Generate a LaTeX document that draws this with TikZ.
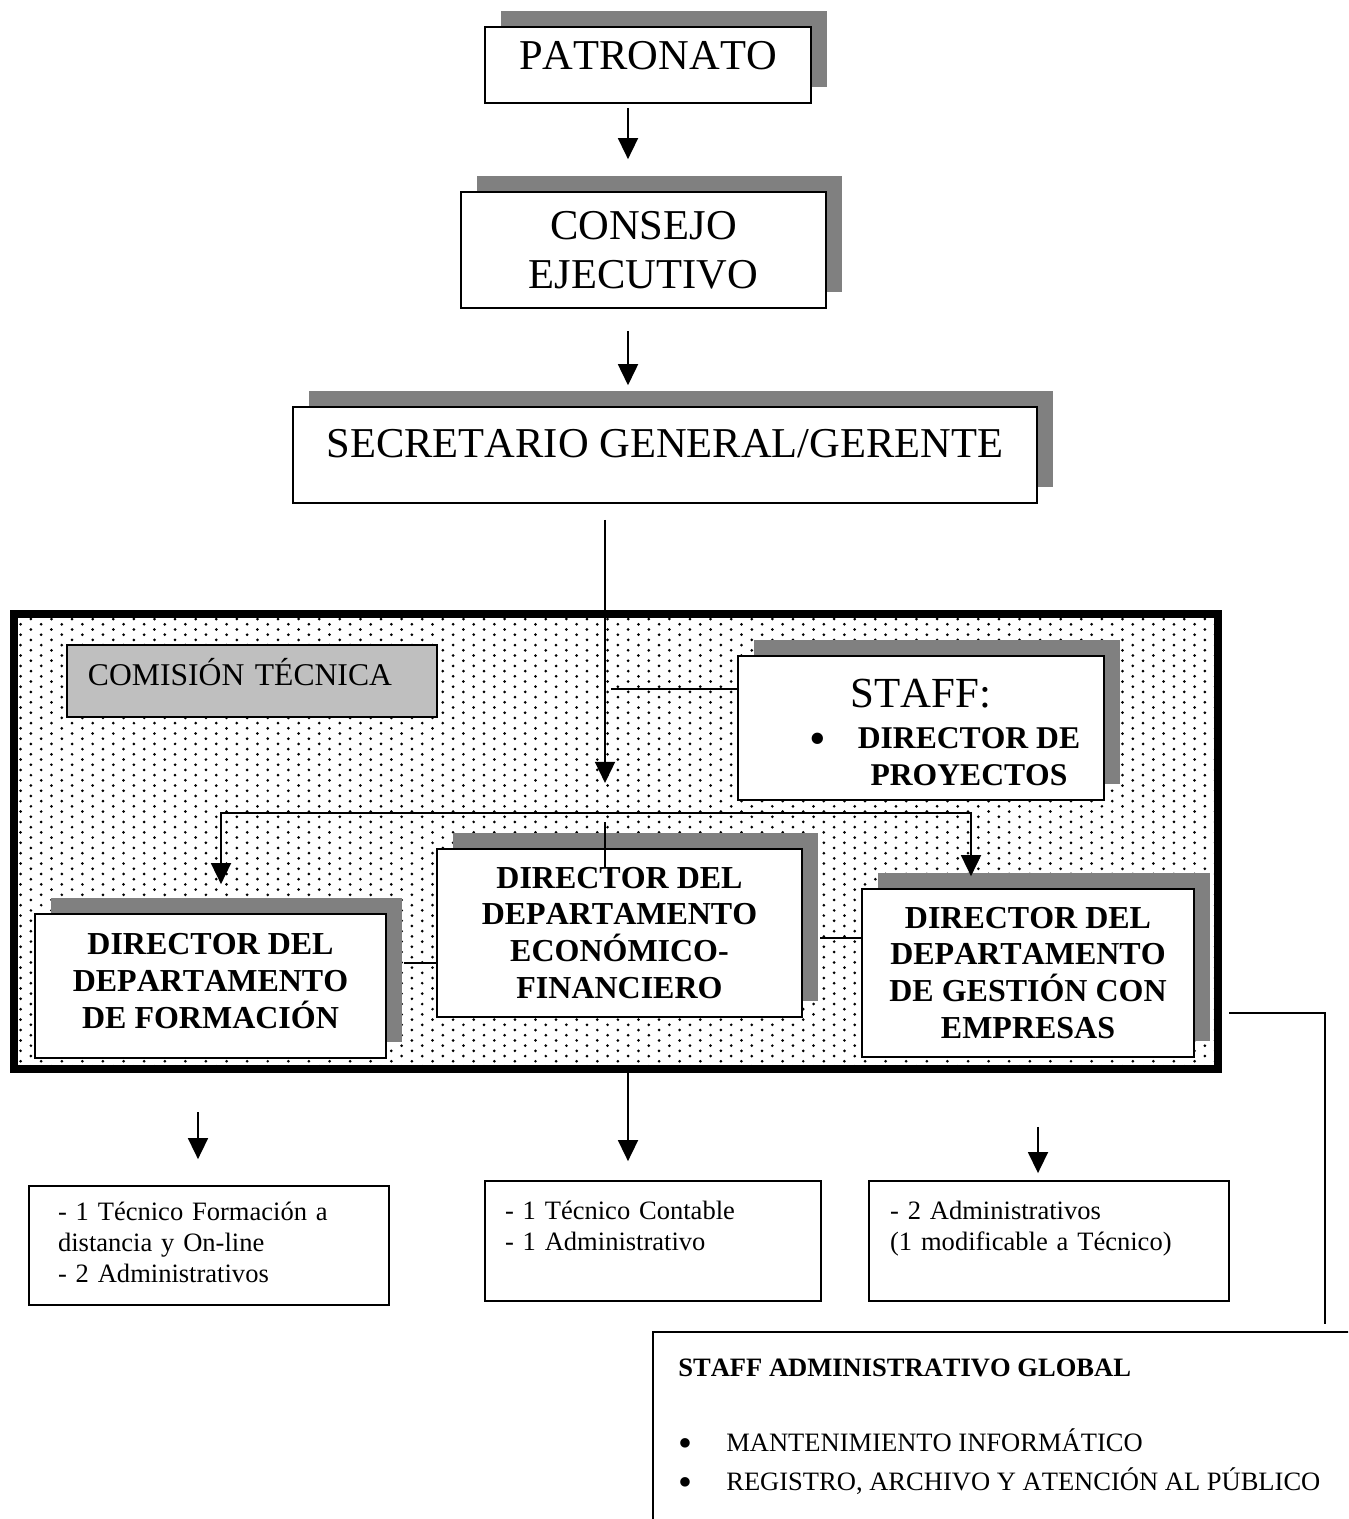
\documentclass[tikz,border=0pt]{standalone}
\usepackage{fontspec}
\setmainfont[Kerning=Off]{Liberation Serif}
\usetikzlibrary{arrows.meta}
\usetikzlibrary{shadows}
\usetikzlibrary{patterns}

\pgfdeclarepatternformonly{ctdots}{\pgfqpoint{-1.2pt}{-1.2pt}}{\pgfqpoint{7.1pt}{4.2pt}}{\pgfqpoint{11.72pt}{5.92pt}}{%
  \pgfpathcircle{\pgfpointorigin}{0.85pt}\pgfusepath{fill}%
  \pgfpathcircle{\pgfqpoint{5.86pt}{2.96pt}}{0.85pt}\pgfusepath{fill}}
\newcommand{\orgbullet}[1]{\raisebox{-#1em}{\scalebox{1.5}{\textbullet}}}

\begin{document}
\begin{tikzpicture}[x=0.2mm, y=-0.2mm,
  box/.style={draw, line width=1pt, fill=white, inner sep=0pt, align=center},
  shbox/.style={box, general shadow={fill=gray, shadow xshift=9.1pt, shadow yshift=9.1pt}},
  big/.style={font=\fontsize{24.2}{27.8}\selectfont},
  dept/.style={font=\fontsize{18.2}{21}\selectfont\bfseries},
  small/.style={font=\fontsize{15.1}{17.6}\selectfont},
  conn/.style={line width=1pt},
  arr/.style={conn, -{Triangle[width=11.4pt, length=12pt]}},
  barr/.style={conn, {Triangle[width=11.4pt, length=12pt]}-{Triangle[width=11.4pt, length=12pt]}}]

\clip (0,0) rectangle (1348,1519);
\fill[white] (0,0) rectangle (1348,1519);

% organos de gobierno
\node[shbox, big, minimum width=185.5pt, minimum height=43.2pt, text depth=10.8pt] (patronato) at (648,65) {PATRONATO};
\node[shbox, big, minimum width=207.7pt, minimum height=66pt] (consejo) at (643.5,250) {CONSEJO\\EJECUTIVO};
\node[shbox, big, minimum width=423.3pt, minimum height=54.6pt, text depth=13.6pt] (secretario) at (665,455) {SECRETARIO GENERAL/GERENTE};

% comision tecnica
\node[draw, line width=4.55pt, pattern=ctdots, pattern color=black, inner sep=0pt,
  minimum width=685.1pt, minimum height=258.9pt] (ct) at (616,841.5) {};
\node[box, fill=lightgray, align=left, font=\fontsize{18}{21}\selectfont, text width=186.7pt,
  inner xsep=11.9pt, minimum height=41pt, text height=11.9pt, text depth=6.8pt] (comision) at (252,681) {COMISIÓN TÉCNICA};
\node[shbox, font=\fontsize{18}{21}\selectfont\bfseries, minimum width=208.3pt, minimum height=81.9pt] (staff) at (921,728)
  {{\fontsize{24.4}{27.8}\mdseries\selectfont\rule{0pt}{21.3pt}STAFF:}\\[2.5pt]
   \hspace*{54.6pt}\llap{\mdseries\orgbullet{0.17}\hspace{18pt}}DIRECTOR DE\\
   \hspace*{54.6pt}PROYECTOS};
\node[shbox, dept, minimum width=207.7pt, minimum height=95.6pt] (economico) at (619.5,933)
  {DIRECTOR DEL\\DEPARTAMENTO\\ECONÓMICO-\\FINANCIERO};
\node[shbox, dept, minimum width=199.7pt, minimum height=81.9pt, text depth=5.7pt] (formacion) at (210.5,986)
  {DIRECTOR DEL\\DEPARTAMENTO\\DE FORMACIÓN};
\node[shbox, dept, minimum width=188.9pt, minimum height=95.6pt] (gestion) at (1028,973)
  {DIRECTOR DEL\\DEPARTAMENTO\\DE GESTIÓN CON\\EMPRESAS};

% personal de cada departamento
\node[box, small, align=left, text width=171.8pt, inner xsep=16.5pt, minimum height=67.7pt, text height=7pt] (tec1) at (209,1245.5)
  {- 1 Técnico Formación a\\distancia y On-line\\- 2 Administrativos};
\node[box, small, align=left, text width=168.4pt, inner xsep=11.4pt, minimum height=68.3pt] (tec2) at (653,1241)
  {- 1 Técnico Contable\\- 1 Administrativo\\\mbox{}};
\node[box, small, align=left, text width=180.8pt, inner xsep=12pt, minimum height=68.3pt] (tec3) at (1049,1241)
  {- 2 Administrativos\\(1 modificable a Técnico)\\\mbox{}};

% staff global
\node[draw, line width=1pt, minimum width=425pt, minimum height=129.7pt] (global) at (1026.5,1446) {};
\node[anchor=north west, inner sep=0pt, align=left, font=\fontsize{15.1}{22.2}\selectfont] (globaltxt) at (678,1359)
  {\textbf{STAFF ADMINISTRATIVO GLOBAL}\\[20.5pt]
   \makebox[27.3pt][l]{\orgbullet{0.17}}MANTENIMIENTO INFORMÁTICO\\
   \makebox[27.3pt][l]{\orgbullet{0.17}}REGISTRO, ARCHIVO Y ATENCIÓN AL PÚBLICO};

\coordinate (branch) at (605,813);
\coordinate (bl) at (221,813);
\coordinate (br) at (971,813);

\draw[arr, shorten <=2.3pt, shorten >=18.2pt] (patronato.south -| 628,0) -- (consejo.north -| 628,0);
\draw[arr, shorten <=12.5pt, shorten >=11.9pt] (consejo.south -| 628,0) -- (secretario.north -| 628,0);
\draw[arr, shorten <=9.1pt, shorten >=17.1pt] (secretario.south -| branch) -- (branch);
\draw[barr, shorten <=16.5pt, shorten >=6.8pt] (formacion.north -| bl) |- (br) -- (gestion.north -| br);
\draw[conn] (branch) ++(0,9) -- ++(0,46);
\draw[conn, shorten >=3.4pt] (staff.west |- 0,689) -- (branch |- 0,689);
\draw[conn, shorten >=9.7pt] (economico.west |- 0,963) -- (formacion.east |- 0,963);
\draw[conn, shorten >=9.7pt] (gestion.west |- 0,938) -- (economico.east |- 0,938);

\draw[arr, shorten <=22.2pt, shorten >=14.8pt] (ct.south -| 198,0) -- (tec1.north -| 198,0);
\draw[arr, shorten >=10.8pt] (ct.south -| 628,0) -- (tec2.north -| 628,0);
\draw[arr, shorten <=30.7pt, shorten >=4pt] (ct.south -| 1038,0) -- (tec3.north -| 1038,0);
\draw[conn, shorten <=4pt, shorten >=4pt] (ct.east |- 0,1013) -| (global.north -| 1325,0);
\end{tikzpicture}
\end{document}
